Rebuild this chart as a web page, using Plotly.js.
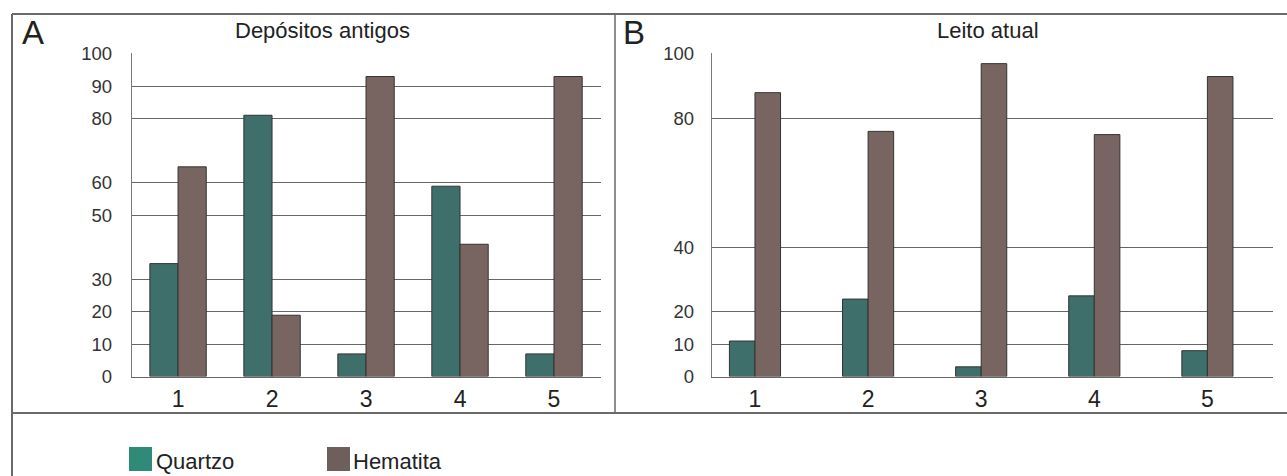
<!DOCTYPE html>
<html>
<head>
<meta charset="utf-8">
<script src="https://cdn.plot.ly/plotly-3.0.1.min.js"></script>
<style>
  html, body { margin: 0; padding: 0; background: #ffffff; }
  #chart { width: 1287px; height: 476px; }
</style>
</head>
<body>
<div id="chart"></div>
<script>
// ---- data ----
var categories = [1, 2, 3, 4, 5];
var categoryLabels = ["1", "2", "3", "4", "5"];
var quartzoA = [35, 81, 7, 59, 7];
var hematitaA = [65, 19, 93, 41, 93];
var quartzoB = [11, 24, 3, 25, 8];
var hematitaB = [88, 76, 97, 75, 93];
var tickValsA = [0, 10, 20, 30, 50, 60, 80, 90, 100];
var tickValsB = [0, 10, 20, 40, 80, 100];
var seriesNames = ["Quartzo", "Hematita"];
var titleA = "Depósitos antigos";
var titleB = "Leito atual";
var panelLetters = ["A", "B"];

// ---- styling ----
var W = 1287, H = 476;
var colQ = "#3f6f6a", colH = "#786561";
var legQ = "#2f8a78", legH = "#6f5f5c";
var lineCol = "#333333";
var gridCol = "#666666";
var frameCol = "#6a6a6a";
var font = "Liberation Sans, Arial, sans-serif";
function px(x) { return x / W; }
function py(y) { return 1 - y / H; }

var wA = 0.30, wB = 0.226;

var traces = [
  { type: "bar", x: categories, y: quartzoA, name: seriesNames[0], xaxis: "x", yaxis: "y",
    width: wA, offset: -wA, marker: { color: colQ, line: { color: lineCol, width: 1 } }, showlegend: false },
  { type: "bar", x: categories, y: hematitaA, name: seriesNames[1], xaxis: "x", yaxis: "y",
    width: wA, offset: 0, marker: { color: colH, line: { color: lineCol, width: 1 } }, showlegend: false },
  { type: "bar", x: categories, y: quartzoB, name: seriesNames[0], xaxis: "x2", yaxis: "y2",
    width: wB, offset: -wB, marker: { color: colQ, line: { color: lineCol, width: 1 } }, showlegend: false },
  { type: "bar", x: categories, y: hematitaB, name: seriesNames[1], xaxis: "x2", yaxis: "y2",
    width: wB, offset: 0, marker: { color: colH, line: { color: lineCol, width: 1 } }, showlegend: false }
];

var yDom = [py(376.5), py(53)];
function xAxis(dom, range) {
  return {
    domain: dom, range: range, tickvals: categories, ticktext: categoryLabels,
    showgrid: false, zeroline: false, showline: true, linecolor: gridCol, linewidth: 1,
    ticks: "", ticklabelstandoff: 2,
    tickfont: { family: font, size: 23, color: "#222" }, fixedrange: true
  };
}
function yAxis(dom, vals, anchor, standoff) {
  return {
    domain: dom, range: [0, 100.3], tickvals: vals, ticktext: vals.map(String), anchor: anchor,
    showgrid: true, gridcolor: gridCol, gridwidth: 1, zeroline: false,
    showline: true, linecolor: "#7a7a7a", linewidth: 1.3,
    ticks: "", ticklabelstandoff: standoff,
    tickfont: { family: font, size: 18.5, color: "#333" }, fixedrange: true
  };
}

var shapes = [
  // frame
  { type: "line", xref: "paper", yref: "paper", x0: px(12), x1: px(1290), y0: py(14), y1: py(14), line: { color: frameCol, width: 2 } },
  { type: "line", xref: "paper", yref: "paper", x0: px(12), x1: px(12), y0: py(14), y1: py(480), line: { color: frameCol, width: 2 } },
  { type: "line", xref: "paper", yref: "paper", x0: px(12), x1: px(1290), y0: py(413), y1: py(413), line: { color: frameCol, width: 2 } },
  { type: "line", xref: "paper", yref: "paper", x0: px(615), x1: px(615), y0: py(14), y1: py(413), line: { color: frameCol, width: 1.5 } },
  // legend swatches
  { type: "rect", xref: "paper", yref: "paper", x0: px(129), x1: px(152), y0: py(471), y1: py(447), fillcolor: legQ, line: { width: 0 } },
  { type: "rect", xref: "paper", yref: "paper", x0: px(327), x1: px(350), y0: py(471), y1: py(447), fillcolor: legH, line: { width: 0 } }
];

var annotations = [
  { text: panelLetters[0], xref: "paper", yref: "paper", x: px(20), y: py(33), xanchor: "left", yanchor: "middle", showarrow: false, font: { family: font, size: 33, color: "#222" } },
  { text: panelLetters[1], xref: "paper", yref: "paper", x: px(621), y: py(33), xanchor: "left", yanchor: "middle", showarrow: false, font: { family: font, size: 33, color: "#222" } },
  { text: titleA, xref: "paper", yref: "paper", x: px(322), y: py(31), xanchor: "center", yanchor: "middle", showarrow: false, font: { family: font, size: 22, color: "#222" } },
  { text: titleB, xref: "paper", yref: "paper", x: px(988), y: py(31), xanchor: "center", yanchor: "middle", showarrow: false, font: { family: font, size: 22, color: "#222" } },
  { text: seriesNames[0], xref: "paper", yref: "paper", x: px(154), y: py(461), xanchor: "left", yanchor: "middle", showarrow: false, font: { family: font, size: 22, color: "#222" } },
  { text: seriesNames[1], xref: "paper", yref: "paper", x: px(351), y: py(461), xanchor: "left", yanchor: "middle", showarrow: false, font: { family: font, size: 22, color: "#222" } }
];

var layout = {
  width: W, height: H,
  margin: { l: 0, r: 0, t: 0, b: 0 },
  paper_bgcolor: "#ffffff", plot_bgcolor: "rgba(0,0,0,0)",
  barmode: "overlay", showlegend: false,
  xaxis: xAxis([px(132), px(601)], [0.51, 5.5]),
  yaxis: yAxis(yDom, tickValsA, "x", 15),
  xaxis2: xAxis([px(712), px(1273)], [0.62, 5.58]),
  yaxis2: yAxis(yDom, tickValsB, "x2", 13),
  shapes: shapes, annotations: annotations
};
layout.xaxis.anchor = "y";
layout.xaxis2.anchor = "y2";

Plotly.newPlot("chart", traces, layout, { displayModeBar: false, staticPlot: true });
</script>
</body>
</html>
